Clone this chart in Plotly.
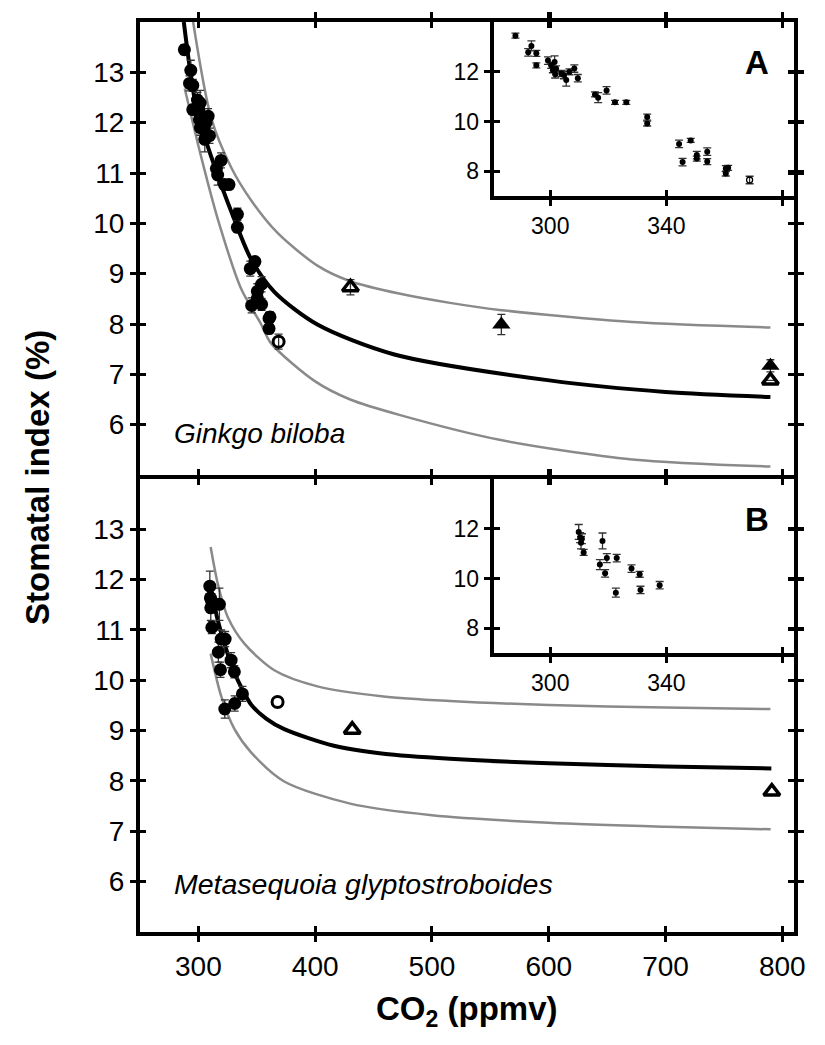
import plotly.graph_objects as go

# ---------------- data ----------------
# Panel A: Ginkgo biloba
gb_co2 = [288, 292.4, 293.5, 295.2, 295.2, 299.2, 300.3, 301.5, 300.9, 302.0,
          301.7, 303.8, 304.7, 305.5, 306.6, 308.3, 309.5, 315.4, 316.5, 319.4,
          322.3, 326.2, 333.4, 333.4, 344.4, 345.6, 348.4, 350.5, 350.5, 354.1,
          354.1, 360.5, 360.5, 361.3]
gb_si = [13.45, 12.78, 13.04, 12.74, 12.26, 12.45, 12.26, 12.39, 12.06, 12.12,
         11.90, 11.93, 11.87, 11.67, 12.00, 12.13, 11.74, 11.09, 10.96, 11.25,
         10.77, 10.77, 10.18, 9.92, 9.10, 8.37, 9.24, 8.65, 8.51, 8.79,
         8.39, 8.11, 7.91, 8.14]
gb_err = [0.10, 0.15, 0.20, 0.12, 0.10, 0.15, 0.12, 0.25, 0.10, 0.12,
          0.15, 0.12, 0.15, 0.25, 0.12, 0.15, 0.15, 0.10, 0.20, 0.15,
          0.08, 0.08, 0.12, 0.10, 0.15, 0.15, 0.08, 0.15, 0.10, 0.15,
          0.12, 0.12, 0.10, 0.10]
gb_open_co2 = [368.7]
gb_open_si = [7.65]
gb_open_err = [0.15]
gb_tri_filled_co2 = [559.4, 789.8]
gb_tri_filled_si = [7.99, 7.17]
gb_tri_filled_err = [0.2, 0.12]
gb_tri_open_co2 = [430.2, 789.8]
gb_tri_open_si = [8.73, 6.88]
gb_tri_open_err = [0.15, 0.0]

# Panel A curves
gb_fit_co2 = [287.5, 298.3, 311.2, 330.9, 345.1, 365, 401.9, 467, 600.5, 700, 789.8]
gb_fit_si = [14.0, 12.29, 11.31, 10.07, 9.29, 8.64, 7.99, 7.40, 6.88, 6.65, 6.55]
gb_up_co2 = [295.5, 311, 328.1, 345.1, 367.8, 401.9, 430, 472.8, 515.4, 557.8, 671.5, 789.8]
gb_up_si = [14.0, 12.09, 11.11, 10.46, 9.81, 9.16, 8.85, 8.60, 8.42, 8.28, 8.04, 7.93]
gb_lo_co2 = [288.3, 302.5, 316.8, 336.6, 353.6, 362.1, 400, 430, 472.8, 557.8, 671.5, 789.8]
gb_lo_si = [12.68, 11.31, 10.07, 8.70, 8.00, 7.62, 6.86, 6.50, 6.19, 5.70, 5.31, 5.17]

# Panel B: Metasequoia glyptostroboides
ms_co2 = [309.8, 310.3, 310.9, 310.6, 311.5, 318.0, 317.1, 319.5, 318.9, 322.9,
          322.6, 328.0, 330.8, 331.1, 337.7]
ms_si = [11.87, 11.64, 11.60, 11.44, 11.05, 11.51, 10.56, 10.82, 10.21, 10.82,
         9.43, 10.40, 10.17, 9.54, 9.73]
ms_err = [0.30, 0.20, 0.20, 0.25, 0.12, 0.32, 0.20, 0.18, 0.15, 0.15,
          0.18, 0.15, 0.12, 0.15, 0.15]
ms_open_co2 = [367.8]
ms_open_si = [9.57]
ms_tri_open_co2 = [431.7, 791.0]
ms_tri_open_si = [9.02, 7.79]

# Panel B curves
ms_fit_co2 = [311, 316, 322, 330.9, 337, 345.1, 358, 373.5, 416, 458.6, 515.4, 600, 700, 790.6]
ms_fit_si = [11.8, 11.25, 10.75, 10.15, 9.85, 9.52, 9.24, 9.03, 8.70, 8.54, 8.44, 8.35, 8.29, 8.25]
ms_up_co2 = [310.5, 316.8, 325.3, 339.4, 365, 401.9, 458.6, 515.4, 600, 700, 789.8]
ms_up_si = [12.65, 11.90, 11.25, 10.73, 10.20, 9.88, 9.68, 9.59, 9.51, 9.46, 9.43]
ms_lo_co2 = [310.5, 319.6, 330.9, 345.1, 373.5, 430, 500, 600, 700, 790]
ms_lo_si = [10.53, 9.68, 9.03, 8.57, 7.99, 7.55, 7.32, 7.17, 7.09, 7.04]

# ticks
main_xticks = [300, 400, 500, 600, 700, 800]
main_yticks = [6, 7, 8, 9, 10, 11, 12, 13]
inset_xticks = [300, 340]
inset_xminor = [380]
inset_yticks = [8, 10, 12]

# ---------------- figure ----------------
fig = go.Figure()
BLACK = "black"
GRAY = "#8a8a8a"


def curve(x, y, xa, ya, color, width):
    fig.add_trace(go.Scatter(x=x, y=y, xaxis=xa, yaxis=ya, mode="lines",
                             line=dict(color=color, width=width, shape="spline", smoothing=0.8),
                             showlegend=False, hoverinfo="skip"))


def pts(x, y, err, xa, ya, symbol, size, lw=0):
    fig.add_trace(go.Scatter(
        x=x, y=y, xaxis=xa, yaxis=ya, mode="markers",
        marker=dict(symbol=symbol, size=size, color=BLACK,
                    line=dict(color=BLACK, width=lw)),
        error_y=dict(type="data", array=err if err is not None else [0] * len(x),
                     visible=err is not None, color="#333", thickness=1.3, width=4),
        showlegend=False, hoverinfo="skip"))


# top main panel
curve(gb_up_co2, gb_up_si, "x", "y", GRAY, 2.5)
curve(gb_lo_co2, gb_lo_si, "x", "y", GRAY, 2.5)
curve(gb_fit_co2, gb_fit_si, "x", "y", BLACK, 4)
pts(gb_co2, gb_si, gb_err, "x", "y", "circle", 13)
pts(gb_open_co2, gb_open_si, gb_open_err, "x", "y", "circle-open", 11, 3)
pts(gb_tri_filled_co2, gb_tri_filled_si, gb_tri_filled_err, "x", "y", "triangle-up", 16)
pts(gb_tri_open_co2, gb_tri_open_si, gb_tri_open_err, "x", "y", "triangle-up-open", 14, 3.5)

# bottom main panel
curve(ms_up_co2, ms_up_si, "x2", "y2", GRAY, 2.5)
curve(ms_lo_co2, ms_lo_si, "x2", "y2", GRAY, 2.5)
curve(ms_fit_co2, ms_fit_si, "x2", "y2", BLACK, 4)
pts(ms_co2, ms_si, ms_err, "x2", "y2", "circle", 13)
pts(ms_open_co2, ms_open_si, None, "x2", "y2", "circle-open", 11, 3)
pts(ms_tri_open_co2, ms_tri_open_si, None, "x2", "y2", "triangle-up-open", 14, 3.5)

# insets
pts(gb_co2, gb_si, gb_err, "x3", "y3", "circle", 6)
pts(gb_open_co2, gb_open_si, gb_open_err, "x3", "y3", "circle-open", 6, 1.3)
pts(ms_co2, ms_si, ms_err, "x4", "y4", "circle", 6)

TICKFONT = dict(family="Liberation Sans, Arial", size=28, color=BLACK)
INSETFONT = dict(family="Liberation Sans, Arial", size=23, color=BLACK)
LW = 4


def axis(domain, rng, tickvals, labels=True, font=TICKFONT, anchor=None, minor_vals=None):
    d = dict(domain=domain, range=rng, showline=True, linewidth=LW, linecolor=BLACK,
             mirror="ticks", ticks="outside", ticklen=6, tickwidth=3, tickcolor=BLACK,
             tickmode="array", tickvals=tickvals, showgrid=False, zeroline=False,
             showticklabels=labels, tickfont=font, anchor=anchor)
    if minor_vals:
        d["minor"] = dict(ticks="outside", tickmode="array", tickvals=minor_vals,
                          ticklen=6, tickwidth=3, tickcolor=BLACK, showgrid=False)
    return d


def inner_axis(over, rng, tickvals, anchor):
    return dict(overlaying=over, anchor=anchor, range=rng, showline=True, linewidth=LW,
                linecolor=BLACK, mirror="ticks", ticks="inside", ticklen=6, tickwidth=3,
                tickcolor=BLACK, tickmode="array", tickvals=tickvals, showgrid=False,
                zeroline=False, showticklabels=False)


XR = [250, 810]
YR = [5, 14]
IXR = [280.5, 384]
IYR = [7, 14]

H = 918.0
d = 2.0 / H
ix_dom = [0.5408, 1.0]
top_dom = [0.5 + d, 1.0]
bot_dom = [0.0, 0.5 - d]
ia_dom = [0.8086, 1.0]
ib_dom = [0.3064, 0.5 - d]

layout = dict(
    width=825, height=1045,
    margin=dict(l=140, r=31, t=14, b=113),
    paper_bgcolor="white", plot_bgcolor="rgba(0,0,0,0)",
    showlegend=False,
    xaxis=axis([0, 1], XR, main_xticks, labels=False, anchor="y"),
    yaxis=axis(top_dom, YR, main_yticks, anchor="x"),
    xaxis2=axis([0, 1], XR, main_xticks, labels=True, anchor="y2"),
    yaxis2=axis(bot_dom, YR, main_yticks, anchor="x2"),
    xaxis3=axis(ix_dom, IXR, inset_xticks, font=INSETFONT, anchor="y3", minor_vals=inset_xminor),
    yaxis3=axis(ia_dom, IYR, inset_yticks, font=INSETFONT, anchor="x3"),
    xaxis4=axis(ix_dom, IXR, inset_xticks, font=INSETFONT, anchor="y4", minor_vals=inset_xminor),
    yaxis4=axis(ib_dom, IYR, inset_yticks, font=INSETFONT, anchor="x4"),
)

# inward halves of the crossing ticks (overlay axes)
specs = [("x", "y", XR, YR, main_xticks, main_yticks),
         ("x2", "y2", XR, YR, main_xticks, main_yticks),
         ("x3", "y3", IXR, IYR, inset_xticks + inset_xminor, inset_yticks),
         ("x4", "y4", IXR, IYR, inset_xticks + inset_xminor, inset_yticks)]
for i, (xa, ya, xr, yr, xt, yt) in enumerate(specs):
    m = i + 5
    layout[f"xaxis{m}"] = inner_axis(xa, xr, xt, f"y{m}")
    layout[f"yaxis{m}"] = inner_axis(ya, yr, yt, f"x{m}")
    fig.add_trace(go.Scatter(x=[None], y=[None], xaxis=f"x{m}", yaxis=f"y{m}",
                             mode="markers", showlegend=False, hoverinfo="skip"))

fig.update_layout(**layout)

fig.add_annotation(text="Ginkgo biloba", x=277, y=5.82, xref="x", yref="y",
                   xanchor="left", yanchor="middle", showarrow=False,
                   font=dict(family="Liberation Sans, Arial", size=28, color=BLACK, style="italic"))
fig.add_annotation(text="Metasequoia glyptostroboides", x=277, y=5.95, xref="x2", yref="y2",
                   xanchor="left", yanchor="middle", showarrow=False,
                   font=dict(family="Liberation Sans, Arial", size=28.5, color=BLACK, style="italic"))
fig.add_annotation(text="<b>A</b>", x=371.2, y=12.36, xref="x3", yref="y3",
                   xanchor="center", yanchor="middle", showarrow=False,
                   font=dict(family="Liberation Sans, Arial", size=33, color=BLACK))
fig.add_annotation(text="<b>B</b>", x=371.2, y=12.37, xref="x4", yref="y4",
                   xanchor="center", yanchor="middle", showarrow=False,
                   font=dict(family="Liberation Sans, Arial", size=33, color=BLACK))
fig.add_annotation(text="<b>Stomatal index (%)</b>", x=-0.1575, y=0.5, xref="paper", yref="paper",
                   xanchor="center", yanchor="middle", textangle=-90, showarrow=False,
                   font=dict(family="Liberation Sans Narrow, Liberation Sans, Arial", size=33, color=BLACK))
fig.add_annotation(text="<b>CO<sub>2</sub> (ppmv)</b>", x=0.5, y=-0.0871, xref="paper", yref="paper",
                   xanchor="center", yanchor="middle", showarrow=False,
                   font=dict(family="Liberation Sans, Arial", size=33, color=BLACK))

fig.write_html("out.html")
